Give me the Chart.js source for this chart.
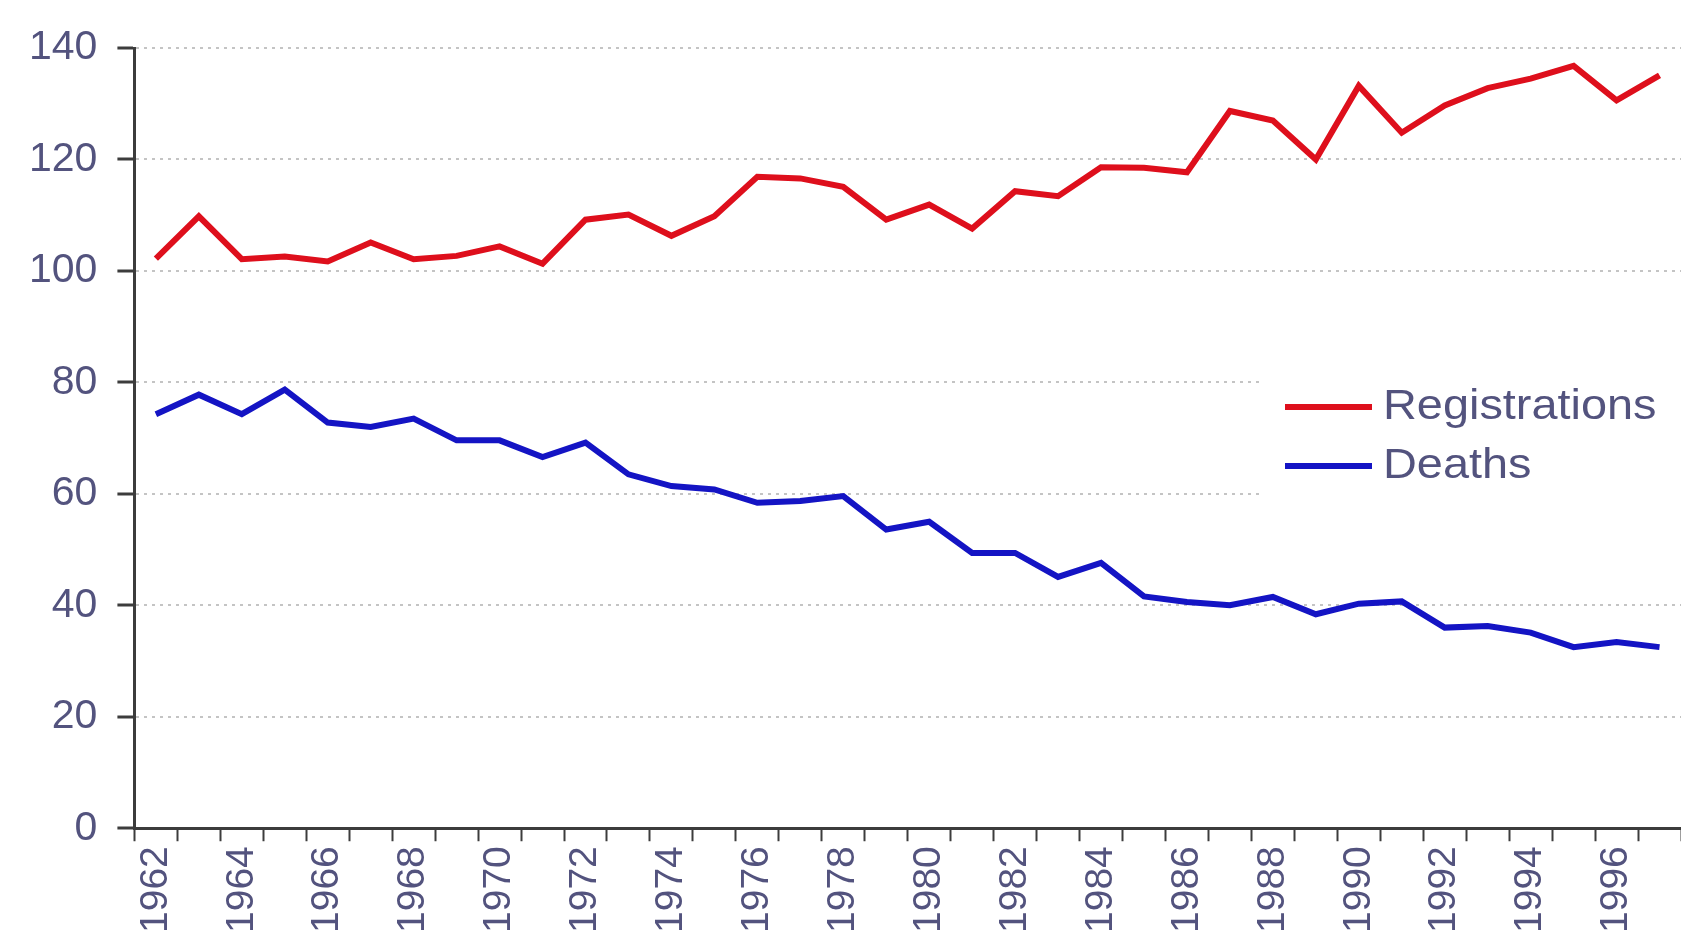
<!DOCTYPE html>
<html>
<head>
<meta charset="utf-8">
<script src="https://cdn.jsdelivr.net/npm/chart.js@4.4.1/dist/chart.umd.min.js"></script>
<style>
    html, body {
        margin: 0;
        padding: 0;
        background: #ffffff;
    }

    .chart-container {
        position: relative;
        width: 1681px;
        height: 938px;
    }
</style>
</head>
<body>

<div class="chart-container">
    <canvas id="chart"></canvas>
</div>

<script>
    // values
    const years = [
        '1962', '1963', '1964', '1965', '1966', '1967', '1968', '1969', '1970', '1971',
        '1972', '1973', '1974', '1975', '1976', '1977', '1978', '1979', '1980', '1981',
        '1982', '1983', '1984', '1985', '1986', '1987', '1988', '1989', '1990', '1991',
        '1992', '1993', '1994', '1995', '1996', '1997'
    ];

    const registrations = [
        102.2, 109.8, 102.1, 102.6, 101.7, 105.1, 102.1, 102.7, 104.4, 101.3,
        109.2, 110.1, 106.3, 109.8, 116.9, 116.6, 115.1, 109.2, 111.9, 107.6,
        114.3, 113.4, 118.6, 118.5, 117.7, 128.7, 127.0, 120.0, 133.2, 124.8,
        129.7, 132.8, 134.5, 136.8, 130.6, 135.1
    ];

    const deaths = [
        74.3, 77.8, 74.3, 78.7, 72.8, 72.0, 73.5, 69.6, 69.6, 66.6,
        69.2, 63.5, 61.4, 60.8, 58.4, 58.7, 59.6, 53.6, 55.0, 49.4,
        49.4, 45.1, 47.6, 41.6, 40.6, 40.0, 41.5, 38.4, 40.3, 40.7,
        36.0, 36.3, 35.1, 32.5, 33.4, 32.5
    ];

    const seriesNames = ['Registrations', 'Deaths'];
    const yTicks = [0, 20, 40, 60, 80, 100, 120, 140];

    const textColor = '#53537e';
    const axisColor = '#3c3c3c';
    const fontFamily = '"Liberation Sans", Arial, sans-serif';

    // legend sits inside the plot on a white box, like the original
    const insideLegend = {
        id: 'insideLegend',
        beforeDatasetsDraw(chart) {
            const ctx = chart.ctx;
            ctx.save();
            ctx.fillStyle = '#ffffff';
            ctx.fillRect(1262, 372, chart.width - 1262, 128);

            chart.data.datasets.forEach((ds, i) => {
                const y = 407 + i * 59;
                ctx.strokeStyle = ds.borderColor;
                ctx.lineWidth = 6;
                ctx.beginPath();
                ctx.moveTo(1285, y);
                ctx.lineTo(1372, y);
                ctx.stroke();

                ctx.save();
                ctx.translate(1383, y);
                ctx.scale(1.09, 1);
                ctx.fillStyle = textColor;
                ctx.font = '43px ' + fontFamily;
                ctx.textBaseline = 'middle';
                ctx.fillText(ds.label, 0, 0);
                ctx.restore();
            });
            ctx.restore();
        }
    };

    new Chart(document.getElementById('chart'), {
        type: 'line',
        data: {
            labels: years,
            datasets: [{
                label: seriesNames[0],
                data: registrations,
                borderColor: '#de0f1c',
                borderWidth: 6,
                pointRadius: 0,
                tension: 0
            }, {
                label: seriesNames[1],
                data: deaths,
                borderColor: '#1414c4',
                borderWidth: 6,
                pointRadius: 0,
                tension: 0
            }]
        },
        options: {
            responsive: true,
            maintainAspectRatio: false,
            animation: false,
            layout: {
                padding: { top: 48, left: 9, right: 0, bottom: 0 }
            },
            plugins: {
                legend: { display: false },
                tooltip: { enabled: false }
            },
            scales: {
                x: {
                    offset: true,
                    // no extra side room for the rotated labels, plot runs to the edge
                    afterFit: scale => {
                        scale.paddingLeft = 0;
                        scale.paddingRight = 0;
                    },
                    grid: {
                        offset: true,
                        drawOnChartArea: false,
                        drawTicks: true,
                        tickLength: 13,
                        tickColor: axisColor,
                        tickWidth: 2
                    },
                    border: { color: axisColor, width: 3 },
                    ticks: {
                        autoSkip: false,
                        minRotation: 90,
                        maxRotation: 90,
                        padding: 5,
                        color: textColor,
                        font: { family: fontFamily, size: 39 },
                        callback: function (value, index) {
                            return index % 2 === 0 ? years[index] : '';
                        }
                    }
                },
                y: {
                    min: yTicks[0],
                    max: yTicks[yTicks.length - 1],
                    afterBuildTicks: scale => {
                        scale.ticks = yTicks.map(v => ({ value: v }));
                    },
                    // top of the plot is set by the layout padding only
                    afterFit: scale => {
                        scale.paddingTop = 0;
                    },
                    grid: {
                        color: '#c4c4c4',
                        lineWidth: 2,
                        drawTicks: true,
                        tickLength: 17,
                        tickColor: axisColor,
                        tickWidth: 3,
                        tickBorderDash: []
                    },
                    border: { color: axisColor, width: 3, dash: [3, 5] },
                    ticks: {
                        padding: 20,
                        color: textColor,
                        font: { family: fontFamily, size: 41 }
                    }
                }
            }
        },
        plugins: [insideLegend]
    });
</script>
</body>
</html>
